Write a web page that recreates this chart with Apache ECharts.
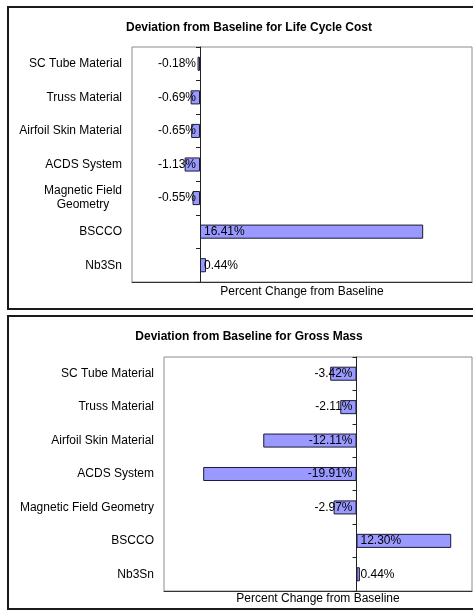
<!DOCTYPE html>
<html>
<head>
<meta charset="utf-8">
<script src="https://cdn.jsdelivr.net/npm/echarts@6/dist/echarts.min.js"></script>
<style>
  html, body { margin: 0; padding: 0; background: #fff; }
  #chart { width: 473px; height: 614px; }
</style>
</head>
<body>
<div id="chart"></div>
<script>
// Design alternatives and their effect on two performance measures
const categories = [
  'SC Tube Material',
  'Truss Material',
  'Airfoil Skin Material',
  'ACDS System',
  'Magnetic Field Geometry',
  'BSCCO',
  'Nb3Sn'
];
const lifeCycleCostChange = [-0.18, -0.69, -0.65, -1.13, -0.55, 16.41, 0.44];
const grossMassChange = [-3.42, -2.11, -12.11, -19.91, -2.97, 12.30, 0.44];

const topTitle = 'Deviation from Baseline for Life Cycle Cost';
const bottomTitle = 'Deviation from Baseline for Gross Mass';
const valueAxisName = 'Percent Change from Baseline';

const FONT = '"Liberation Sans", Arial, Helvetica, sans-serif';
const FS = 12;
const BAR_FILL = '#9999ff';
const BAR_EDGE = '#1a1a33';

const chart = echarts.init(document.getElementById('chart'), null, { renderer: 'canvas' });

// Long names wrap onto two centred lines in the narrower panel
function wrapName(name) {
  if (name.length > 22) {
    const cut = name.lastIndexOf(' ');
    return '{c|' + name.slice(0, cut) + '}\n{c|' + name.slice(cut + 1) + '}';
  }
  return name;
}

function labelFor(values) {
  return values.map(v => ({
    value: v,
    label: { position: v < 0 ? 'insideRight' : 'insideLeft' }
  }));
}

function valueAxis(gridIndex, min, max, nameGap) {
  return {
    type: 'value',
    gridIndex: gridIndex,
    min: min,
    max: max,
    interval: 5,
    name: valueAxisName,
    nameLocation: 'middle',
    nameGap: nameGap,
    nameTextStyle: { fontFamily: FONT, fontSize: FS, color: '#000' },
    axisLine: { show: true, onZero: false, lineStyle: { color: '#333', width: 1 } },
    axisTick: { show: false },
    axisLabel: { show: false },
    splitLine: { show: false }
  };
}

// Category axis at the plot's left edge carrying the names
function nameAxis(gridIndex, wrap) {
  return {
    type: 'category',
    gridIndex: gridIndex,
    data: categories,
    inverse: true,
    axisLine: { show: false, onZero: false },
    axisTick: { show: false },
    axisLabel: {
      fontFamily: FONT,
      fontSize: FS,
      color: '#000',
      margin: 10,
      lineHeight: 14,
      formatter: wrap ? wrapName : (v => v),
      rich: { c: { align: 'center', fontFamily: FONT, fontSize: FS, color: '#000', lineHeight: 14 } }
    },
    splitLine: { show: false }
  };
}

// Category axis crossing at zero, with tick marks between bands
function zeroAxis(gridIndex) {
  return {
    type: 'category',
    gridIndex: gridIndex,
    data: categories,
    inverse: true,
    axisLine: { show: true, onZero: true, lineStyle: { color: '#222', width: 1 } },
    axisTick: { show: true, inside: true, length: 4, lineStyle: { color: '#222' } },
    axisLabel: { show: false },
    splitLine: { show: false }
  };
}

function barSeries(xIdx, yIdx, values) {
  return {
    type: 'bar',
    xAxisIndex: xIdx,
    yAxisIndex: yIdx,
    data: labelFor(values),
    barWidth: '42%',
    itemStyle: { color: BAR_FILL, borderColor: BAR_EDGE, borderWidth: 1 },
    label: {
      show: true,
      distance: 4,
      fontFamily: FONT,
      fontSize: FS,
      color: '#000',
      formatter: p => p.value.toFixed(2) + '%'
    },
    emphasis: { disabled: true },
    animation: false
  };
}

chart.setOption({
  animation: false,
  backgroundColor: '#fff',
  title: [
    {
      text: topTitle,
      left: 244, top: 17, textAlign: 'center',
      textStyle: { fontFamily: FONT, fontSize: FS, fontWeight: 'bold', color: '#000' }
    },
    {
      text: bottomTitle,
      left: 244, top: 326, textAlign: 'center',
      textStyle: { fontFamily: FONT, fontSize: FS, fontWeight: 'bold', color: '#000' }
    }
  ],
  graphic: [
    { type: 'rect', shape: { x: 8, y: 7, width: 480, height: 302 },
      style: { fill: 'none', stroke: '#1a1a1a', lineWidth: 2 }, silent: true, z: 0 },
    { type: 'rect', shape: { x: 8, y: 316, width: 480, height: 293 },
      style: { fill: 'none', stroke: '#1a1a1a', lineWidth: 2 }, silent: true, z: 0 }
  ],
  grid: [
    { left: 132, top: 47, right: 1, bottom: 332, show: true, borderColor: '#8c8c8c', borderWidth: 1,
      backgroundColor: '#fff', containLabel: false, outerBoundsMode: 'none' },
    { left: 164, top: 357, right: 1, bottom: 23, show: true, borderColor: '#8c8c8c', borderWidth: 1,
      backgroundColor: '#fff', containLabel: false, outerBoundsMode: 'none' }
  ],
  xAxis: [
    valueAxis(0, -5, 20, 4),
    valueAxis(1, -25, 15, 2)
  ],
  yAxis: [
    nameAxis(0, true),
    zeroAxis(0),
    nameAxis(1, false),
    zeroAxis(1)
  ],
  series: [
    barSeries(0, 0, lifeCycleCostChange),
    barSeries(1, 2, grossMassChange)
  ]
});
</script>
</body>
</html>
